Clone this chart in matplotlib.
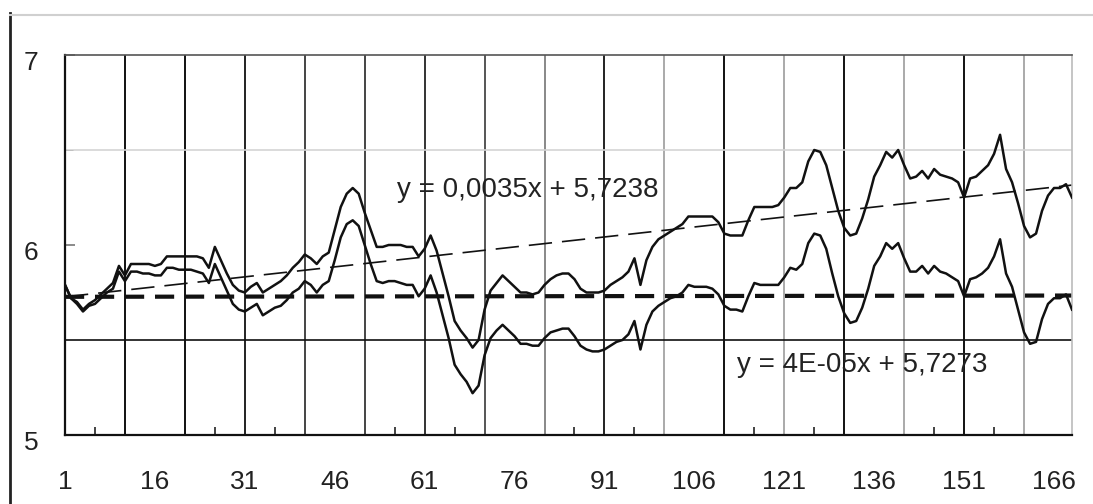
import matplotlib
matplotlib.use("Agg")
import matplotlib.pyplot as plt
from matplotlib.lines import Line2D
from matplotlib.transforms import ScaledTranslation
import numpy as np

plt.rcParams['font.family'] = ['Liberation Sans', 'DejaVu Sans']

# Observation index (1..169)
periods = np.arange(1, 170)

# Original series
series_raw = [
    5.79, 5.72, 5.70, 5.66, 5.69, 5.71, 5.74, 5.77, 5.80, 5.89,
    5.84, 5.90, 5.90, 5.90, 5.90, 5.89, 5.90, 5.94, 5.94, 5.94,
    5.94, 5.94, 5.94, 5.93, 5.88, 5.99, 5.92, 5.85, 5.79, 5.76,
    5.75, 5.78, 5.80, 5.75, 5.77, 5.79, 5.81, 5.84, 5.88, 5.91,
    5.95, 5.93, 5.90, 5.94, 5.96, 6.08, 6.20, 6.27, 6.30, 6.27,
    6.17, 6.08, 5.99, 5.99, 6.00, 6.00, 6.00, 5.99, 5.99, 5.94,
    5.98, 6.05, 5.97, 5.85, 5.73, 5.60, 5.55, 5.51, 5.46, 5.50,
    5.66, 5.76, 5.80, 5.84, 5.81, 5.78, 5.75, 5.75, 5.74, 5.75,
    5.79, 5.82, 5.84, 5.85, 5.85, 5.82, 5.77, 5.75, 5.75, 5.75,
    5.76, 5.79, 5.81, 5.83, 5.86, 5.93, 5.79, 5.92, 5.99, 6.03,
    6.05, 6.07, 6.09, 6.11, 6.15, 6.15, 6.15, 6.15, 6.15, 6.12,
    6.06, 6.05, 6.05, 6.05, 6.13, 6.20, 6.20, 6.20, 6.20, 6.21,
    6.25, 6.30, 6.30, 6.33, 6.44, 6.50, 6.49, 6.42, 6.30, 6.18,
    6.09, 6.05, 6.06, 6.14, 6.24, 6.36, 6.42, 6.49, 6.46, 6.50,
    6.42, 6.35, 6.36, 6.39, 6.35, 6.40, 6.37, 6.36, 6.35, 6.33,
    6.25, 6.35, 6.36, 6.39, 6.42, 6.48, 6.58, 6.40, 6.33, 6.22,
    6.10, 6.04, 6.06, 6.18, 6.26, 6.30, 6.30, 6.32, 6.25,
]

# Detrended series
series_detrended = [
    5.79, 5.72, 5.69, 5.65, 5.68, 5.69, 5.72, 5.75, 5.77, 5.86,
    5.81, 5.86, 5.86, 5.85, 5.85, 5.84, 5.84, 5.88, 5.88, 5.87,
    5.87, 5.87, 5.86, 5.85, 5.80, 5.90, 5.83, 5.76, 5.69, 5.66,
    5.65, 5.67, 5.69, 5.63, 5.65, 5.67, 5.68, 5.71, 5.75, 5.77,
    5.81, 5.79, 5.75, 5.79, 5.81, 5.92, 6.04, 6.11, 6.13, 6.10,
    6.00, 5.90, 5.81, 5.80, 5.81, 5.81, 5.80, 5.79, 5.79, 5.73,
    5.77, 5.84, 5.75, 5.63, 5.51, 5.37, 5.32, 5.28, 5.22, 5.26,
    5.42, 5.51, 5.55, 5.58, 5.55, 5.52, 5.48, 5.48, 5.47, 5.47,
    5.51, 5.54, 5.55, 5.56, 5.56, 5.52, 5.47, 5.45, 5.44, 5.44,
    5.45, 5.47, 5.49, 5.50, 5.53, 5.60, 5.45, 5.58, 5.65, 5.68,
    5.70, 5.72, 5.73, 5.75, 5.79, 5.78, 5.78, 5.78, 5.77, 5.74,
    5.68, 5.66, 5.66, 5.65, 5.73, 5.80, 5.79, 5.79, 5.79, 5.79,
    5.83, 5.88, 5.87, 5.90, 6.01, 6.06, 6.05, 5.98, 5.85, 5.73,
    5.64, 5.59, 5.60, 5.67, 5.77, 5.89, 5.94, 6.01, 5.98, 6.01,
    5.93, 5.86, 5.86, 5.89, 5.85, 5.89, 5.86, 5.85, 5.83, 5.81,
    5.73, 5.82, 5.83, 5.85, 5.88, 5.94, 6.03, 5.85, 5.78, 5.66,
    5.54, 5.48, 5.49, 5.61, 5.69, 5.72, 5.72, 5.74, 5.66,
]

# Linear trend coefficients (slope, intercept)
trend_raw = (0.0035, 5.7238)
trend_detrended = (4e-05, 5.7273)

x_labels = [1, 16, 31, 46, 61, 76, 91, 106, 121, 136, 151, 166]
y_labels = [5, 6, 7]

fig = plt.figure(figsize=(10.93, 5.04), dpi=100)
ax = fig.add_axes([65 / 1093, 1 - 435 / 504, (1072 - 65) / 1093, (435 - 55) / 504])

ax.set_xlim(1, 169)
ax.set_ylim(5, 7)

# vertical grid every 10 observations, with varying shades
vgrid = list(range(11, 169, 10))
vshade = ['#111111', '#111111', '#222222', '#444444', '#444444', '#333333',
          '#555555', '#888888', '#222222', '#aaaaaa', '#111111', '#aaaaaa',
          '#111111', '#aaaaaa', '#111111', '#aaaaaa']
for xv, c in zip(vgrid, vshade):
    ax.axvline(xv, color=c, lw=1.4, zorder=1)

ax.axhline(6.5, color='#d4d4d4', lw=1.2, zorder=1)
ax.axhline(5.5, color='#111111', lw=1.2, zorder=1)

# trend lines
tx = np.array([periods[0], periods[-1]], dtype=float)
ax.plot(tx, trend_raw[0] * tx + trend_raw[1], color='#111111', lw=1.2,
        dashes=(14, 6), zorder=2)
ax.plot(tx, trend_detrended[0] * tx + trend_detrended[1], color='#111111',
        lw=3.0, dashes=(4.6, 2.6), zorder=2)

# data series
ax.plot(periods, series_raw, color='#111111', lw=1.8, zorder=3)
ax.plot(periods, series_detrended, color='#111111', lw=1.8, zorder=3)

# equations
ax.text(397, 504 - 190, 'y = 0,0035x + 5,7238', transform=None, fontsize=20,
        color='#222222', va='center', ha='left')
ax.text(737, 504 - 365, 'y = 4E-05x + 5,7273', transform=None, fontsize=20,
        color='#222222', va='center', ha='left')

# spines
for s in ['left', 'bottom']:
    ax.spines[s].set_color('#111111')
    ax.spines[s].set_linewidth(1.6)
ax.spines['top'].set_color('#555555')
ax.spines['top'].set_linewidth(1.2)
ax.spines['right'].set_color('#bbbbbb')
ax.spines['right'].set_linewidth(1.2)

# x axis: labels every 15, small inward marks every 10
ax.set_xticks(x_labels)
ax.set_xticklabels([str(v) for v in x_labels], fontsize=19, color='#222222')
ax.tick_params(axis='x', which='major', length=0, pad=25)
ax.set_xticks(list(range(6, 169, 10)), minor=True)
ax.tick_params(axis='x', which='minor', length=6, width=1.2,
               direction='in', color='#222222')

# y axis
ax.set_yticks(y_labels)
ax.set_yticklabels([str(v) for v in y_labels], fontsize=19, color='#222222')
ax.tick_params(axis='y', which='major', length=7, width=1.2, direction='in',
               color='#777777', pad=19)
shift_down = ScaledTranslation(0, -4 / 72, fig.dpi_scale_trans)
for tick in ax.yaxis.get_major_ticks():
    tick.label1.set_transform(tick.label1.get_transform() + shift_down)
ax.set_yticks([6.5], minor=True)
ax.tick_params(axis='y', which='minor', length=6, direction='in',
               color='#bbbbbb')

# outer chart frame
fig.add_artist(Line2D([9.5 / 1093, 9.5 / 1093], [1 - 13 / 504, 0],
                      color='#222222', lw=2.0))
fig.add_artist(Line2D([9.5 / 1093, 1], [1 - 15 / 504, 1 - 15 / 504],
                      color='#d0d0d0', lw=1.5))

fig.savefig('out.png', dpi=100)
